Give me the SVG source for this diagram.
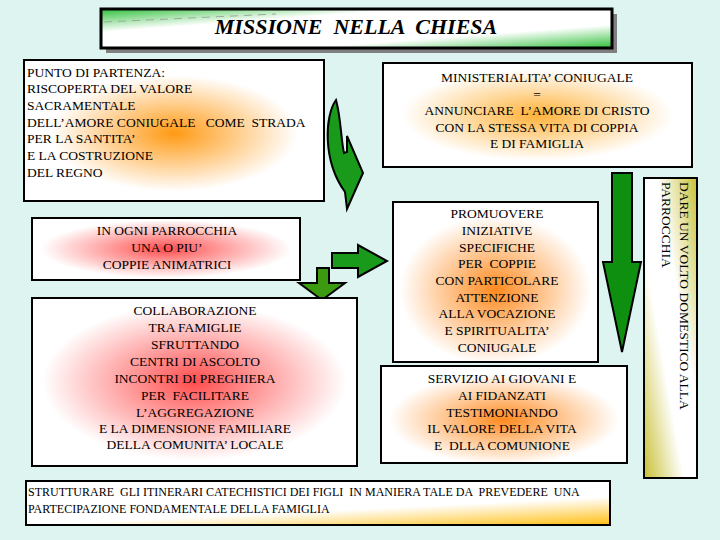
<svg xmlns="http://www.w3.org/2000/svg" width="720" height="540" viewBox="0 0 720 540">
<defs>
<style>
.bx{stroke:#000;stroke-width:2}
.t{font-size:13.5px;fill:#000}
.c{text-anchor:middle}
.ar{stroke:#000;stroke-width:2;stroke-linejoin:miter}
</style>
<linearGradient id="gTitle" x1="0" y1="0" x2="1" y2="1">
<stop offset="0" stop-color="#2fbf3a"/><stop offset="0.3" stop-color="#ffffff"/><stop offset="0.7" stop-color="#ffffff"/><stop offset="1" stop-color="#2fbf3a"/>
</linearGradient>
<radialGradient id="gOr1" cx="0.5" cy="0.52" r="0.55">
<stop offset="0" stop-color="#ff9a14"/><stop offset="0.75" stop-color="#ffffff"/>
</radialGradient>
<radialGradient id="gOr2" cx="0.5" cy="0.5" r="0.55">
<stop offset="0" stop-color="#ffb23a"/><stop offset="0.8" stop-color="#ffffff"/>
</radialGradient>
<radialGradient id="gOr3" cx="0.5" cy="0.55" r="0.55">
<stop offset="0" stop-color="#ff8a1e"/><stop offset="0.85" stop-color="#ffffff"/>
</radialGradient>
<radialGradient id="gRed" cx="0.5" cy="0.5" r="0.55">
<stop offset="0" stop-color="#ff4d4d"/><stop offset="0.85" stop-color="#ffffff"/>
</radialGradient>
<linearGradient id="gBot" x1="0.35" y1="0" x2="1" y2="1">
<stop offset="0" stop-color="#ffffff"/><stop offset="0.55" stop-color="#ffffff"/><stop offset="1" stop-color="#ffbe10"/>
</linearGradient>
<linearGradient id="gVert" x1="1" y1="0" x2="0" y2="1">
<stop offset="0" stop-color="#c8c034"/><stop offset="0.38" stop-color="#ffffff"/><stop offset="0.62" stop-color="#ffffff"/><stop offset="1" stop-color="#c8c034"/>
</linearGradient>
</defs>
<rect width="720" height="540" fill="#def4f1"/>
<g font-family="'Liberation Serif','DejaVu Serif',serif">

<g id="title">
<rect x="106" y="14" width="511" height="39" fill="#808080"/>
<rect x="101" y="9" width="511" height="39" fill="url(#gTitle)" stroke="#000" stroke-width="3"/>
<path d="M104,22 L276,14" stroke="#9aaa9a" stroke-width="1" stroke-dasharray="8,6" fill="none"/>
<text x="356" y="34" text-anchor="middle" font-style="italic" font-weight="bold" font-size="22" xml:space="preserve">MISSIONE  NELLA  CHIESA</text>
</g>

<g id="connectors">
<path class="ar" fill="#1a9a1a" d="M336,100 C325,115 322,160 345,192 L347,209 L363,173 L347,136 L347,152 L344,153 C341,140 341,118 336,100 Z"/>
<polygon class="ar" fill="#0f8f0f" points="612,173 632,173 632,262 641,262 622,352 603,262 612,262"/>
<polygon class="ar" fill="#1a9a1a" points="332,253 358,253 358,245 387,261 358,277 358,268 332,268"/>
<polygon class="ar" fill="#3c9a10" points="317,268 329,268 329,283 345,283 322,300 299,283 317,283"/>
</g>

<g id="n1">
<rect class="bx" x="24" y="60" width="300" height="141" fill="url(#gOr1)"/>
<text class="t" x="27" y="77">PUNTO DI PARTENZA:</text>
<text class="t" x="27" y="93">RISCOPERTA DEL VALORE</text>
<text class="t" x="27" y="110">SACRAMENTALE</text>
<text class="t" x="27" y="127" xml:space="preserve">DELL’AMORE CONIUGALE   COME  STRADA</text>
<text class="t" x="27" y="143">PER LA SANTITA’</text>
<text class="t" x="27" y="160">E LA COSTRUZIONE</text>
<text class="t" x="27" y="177">DEL REGNO</text>
</g>

<g id="n2">
<rect class="bx" x="383" y="63" width="309" height="104" fill="url(#gOr2)"/>
<text class="t c" x="537" y="82">MINISTERIALITA’ CONIUGALE</text>
<text class="t c" x="537" y="99">=</text>
<text class="t c" x="537" y="115" xml:space="preserve">ANNUNCIARE  L’AMORE DI CRISTO</text>
<text class="t c" x="537" y="132">CON LA STESSA VITA DI COPPIA</text>
<text class="t c" x="537" y="148">E DI FAMIGLIA</text>
</g>

<g id="n3">
<rect class="bx" x="32" y="218" width="268" height="62" fill="url(#gRed)"/>
<text class="t c" x="167" y="235">IN OGNI PARROCCHIA</text>
<text class="t c" x="167" y="252">UNA O PIU’</text>
<text class="t c" x="167" y="269">COPPIE ANIMATRICI</text>
</g>

<g id="n4">
<rect class="bx" x="32" y="298" width="325" height="168" fill="url(#gRed)"/>
<text class="t c" x="195" y="315">COLLABORAZIONE</text>
<text class="t c" x="195" y="332">TRA FAMIGLIE</text>
<text class="t c" x="195" y="349">SFRUTTANDO</text>
<text class="t c" x="195" y="366">CENTRI DI ASCOLTO</text>
<text class="t c" x="195" y="383">INCONTRI DI PREGHIERA</text>
<text class="t c" x="195" y="400" xml:space="preserve">PER  FACILITARE</text>
<text class="t c" x="195" y="417">L’AGGREGAZIONE</text>
<text class="t c" x="195" y="433">E LA DIMENSIONE FAMILIARE</text>
<text class="t c" x="195" y="449">DELLA COMUNITA’ LOCALE</text>
</g>

<g id="n5">
<rect class="bx" x="393" y="202" width="205" height="160" fill="url(#gOr3)"/>
<text class="t c" x="497" y="218">PROMUOVERE</text>
<text class="t c" x="497" y="235">INIZIATIVE</text>
<text class="t c" x="497" y="252">SPECIFICHE</text>
<text class="t c" x="497" y="268" xml:space="preserve">PER  COPPIE</text>
<text class="t c" x="497" y="285">CON PARTICOLARE</text>
<text class="t c" x="497" y="302">ATTENZIONE</text>
<text class="t c" x="497" y="318">ALLA VOCAZIONE</text>
<text class="t c" x="497" y="335">E SPIRITUALITA’</text>
<text class="t c" x="497" y="352">CONIUGALE</text>
</g>

<g id="n6">
<rect class="bx" x="381" y="366" width="246" height="97" fill="url(#gOr3)"/>
<text class="t c" x="502" y="383">SERVIZIO AI GIOVANI E</text>
<text class="t c" x="502" y="400">AI FIDANZATI</text>
<text class="t c" x="502" y="417">TESTIMONIANDO</text>
<text class="t c" x="502" y="433">IL VALORE DELLA VITA</text>
<text class="t c" x="502" y="450" xml:space="preserve">E  DLLA COMUNIONE</text>
</g>

<g id="n7">
<rect class="bx" x="644" y="178" width="53" height="300" fill="url(#gVert)"/>
<g transform="translate(690,182) rotate(90)">
<text class="t" x="0" y="10">DARE UN VOLTO DOMESTICO ALLA</text>
<text class="t" x="0" y="28">PARROCCHIA</text>
</g>
</g>

<g id="n8">
<rect class="bx" x="26" y="481" width="584" height="44" fill="url(#gBot)"/>
<text class="t" x="28" y="496" style="font-size:12px" xml:space="preserve">STRUTTURARE  GLI ITINERARI CATECHISTICI DEI FIGLI  IN MANIERA TALE DA  PREVEDERE  UNA</text>
<text class="t" x="28" y="513" style="font-size:12px">PARTECIPAZIONE FONDAMENTALE DELLA FAMIGLIA</text>
</g>
</g>
</svg>
